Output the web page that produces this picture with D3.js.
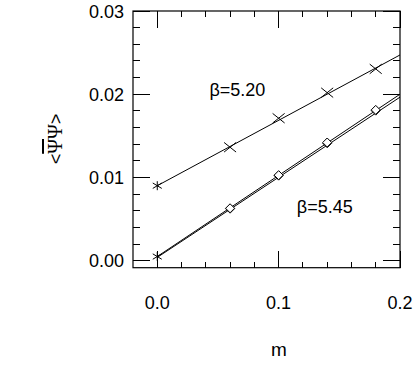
<!DOCTYPE html>
<html><head><meta charset="utf-8">
<script src="https://cdn.jsdelivr.net/npm/d3@7"></script>
<style>body{margin:0;background:#fff}svg{display:block}text{font-family:"Liberation Sans",Arial,sans-serif;fill:#000}</style>
</head><body><svg id="c" width="415" height="370"></svg>
<script>
// data
const mCross = [0.06, 0.10, 0.14, 0.18];
const val520 = [0.01363, 0.01712, 0.02019, 0.02304];
const ext520 = [0.00901];
const mDiam = [0.06, 0.10, 0.14, 0.18];
const val545a = [0.00625, 0.01022, 0.01411, 0.01803];
const val545b = [0.00630, 0.01028, 0.01420, 0.01812];
const ext545 = [0.00050];
const mExt = [0.0];
const fitX = [0.0, 0.2];
const fit520 = [0.00901, 0.02472];
const fit545a = [0.00050, 0.02000];
const fit545b = [0.00040, 0.01965];
const xTicks = [0.0, 0.1, 0.2];
const xTickLabels = ["0.0", "0.1", "0.2"];
const yTicks = [0.00, 0.01, 0.02, 0.03];
const yTickLabels = ["0.00", "0.01", "0.02", "0.03"];
const labels = [{t:"β=5.20", m:0.043, v:0.0198}, {t:"β=5.45", m:0.115, v:0.0057}];

const svg = d3.select("#c");
const x = d3.scaleLinear().domain([-0.02, 0.2]).range([133, 400]);
const y = d3.scaleLinear().domain([-0.00084, 0.03]).range([267.7, 11]);
const X0 = x.range()[0], X1 = x.range()[1], Y0 = y.range()[0], Y1 = y.range()[1];

const defs = svg.append("defs");
defs.append("clipPath").attr("id","clip").append("rect")
  .attr("x", X0).attr("y", Y1).attr("width", X1-X0).attr("height", Y0-Y1);

// ticks
const g = svg.append("g").attr("stroke","#000").attr("stroke-width",1).attr("shape-rendering","crispEdges");
const xMinor = d3.range(0, 0.2001, 0.02);
xMinor.forEach(v => {
  const major = xTicks.some(t => Math.abs(t - v) < 1e-6);
  const L = major ? 17 : 6;
  g.append("line").attr("x1", x(v)).attr("x2", x(v)).attr("y1", Y0).attr("y2", Y0 - L);
  g.append("line").attr("x1", x(v)).attr("x2", x(v)).attr("y1", Y1).attr("y2", Y1 + L);
});
const yMinor = d3.range(0, 0.03001, 0.002);
yMinor.forEach(v => {
  const major = yTicks.some(t => Math.abs(t - v) < 1e-6);
  const L = major ? 17 : 7;
  g.append("line").attr("y1", y(v)).attr("y2", y(v)).attr("x1", X0).attr("x2", X0 + L);
  g.append("line").attr("y1", y(v)).attr("y2", y(v)).attr("x1", X1).attr("x2", X1 - L);
});
svg.append("rect").attr("x", X0).attr("y", Y1).attr("width", X1-X0).attr("height", Y0-Y1)
  .attr("fill","none").attr("stroke","#000").attr("stroke-width",1.2);

// tick labels
svg.selectAll(".xl").data(xTicks).enter().append("text")
  .attr("x", d => x(d)).attr("y", 309).attr("text-anchor","middle").attr("font-size",18)
  .text((d,i) => xTickLabels[i]);
svg.selectAll(".yl").data(yTicks).enter().append("text")
  .attr("x", 124).attr("y", d => y(d) + 6.5).attr("text-anchor","end").attr("font-size",18)
  .text((d,i) => yTickLabels[i]);

// axis titles
svg.append("text").attr("x", 279).attr("y", 356).attr("text-anchor","middle").attr("font-size",19).text("m");
const yt = svg.append("text").attr("transform","translate(62,139) rotate(-90)")
  .attr("text-anchor","middle").attr("font-size",18);
yt.append("tspan").text("<");
yt.append("tspan").attr("font-family","'Liberation Serif','DejaVu Serif',serif").attr("font-size",20).style("text-decoration","overline").text("Ψ");
yt.append("tspan").attr("font-family","'Liberation Serif','DejaVu Serif',serif").attr("font-size",20).text("Ψ");
yt.append("tspan").text(">");

// fit lines
const plot = svg.append("g").attr("clip-path","url(#clip)");
const line = d3.line().x(d => x(d[0])).y(d => y(d[1]));
[fit520, fit545a, fit545b].forEach(f => {
  plot.append("path").datum(fitX.map((m,i) => [m, f[i]])).attr("d", line)
    .attr("fill","none").attr("stroke","#000").attr("stroke-width",1);
});

// markers
const cross = 6, ast = 4.5, dia = 4.5;
function drawCross(ms, vs) {
  ms.forEach((m,i) => {
    const cx = x(m), cy = y(vs[i]);
    plot.append("path").attr("d", `M${cx-cross},${cy-cross*0.8}L${cx+cross},${cy+cross*0.8}M${cx-cross},${cy+cross*0.8}L${cx+cross},${cy-cross*0.8}`)
      .attr("stroke","#000").attr("stroke-width",1).attr("fill","none");
  });
}
function drawAst(ms, vs) {
  ms.forEach((m,i) => {
    const cx = x(m), cy = y(vs[i]);
    plot.append("path").attr("d", `M${cx},${cy-ast}L${cx},${cy+ast}M${cx-ast},${cy-ast*0.6}L${cx+ast},${cy+ast*0.6}M${cx-ast},${cy+ast*0.6}L${cx+ast},${cy-ast*0.6}`)
      .attr("stroke","#000").attr("stroke-width",1).attr("fill","none");
  });
}
function drawDia(ms, vs) {
  ms.forEach((m,i) => {
    const cx = x(m), cy = y(vs[i]);
    plot.append("path").attr("d", `M${cx},${cy-dia}L${cx+dia},${cy}L${cx},${cy+dia}L${cx-dia},${cy}Z`)
      .attr("stroke","#000").attr("stroke-width",1).attr("fill","#fff");
  });
}
drawCross(mCross, val520);
drawAst(mExt, ext520);
drawDia(mDiam, val545a);
drawDia(mDiam, val545b);
drawAst(mExt, ext545);

// annotations
svg.selectAll(".ann").data(labels).enter().append("text")
  .attr("x", d => x(d.m)).attr("y", d => y(d.v)).attr("font-size",18).text(d => d.t);
</script></body></html>
